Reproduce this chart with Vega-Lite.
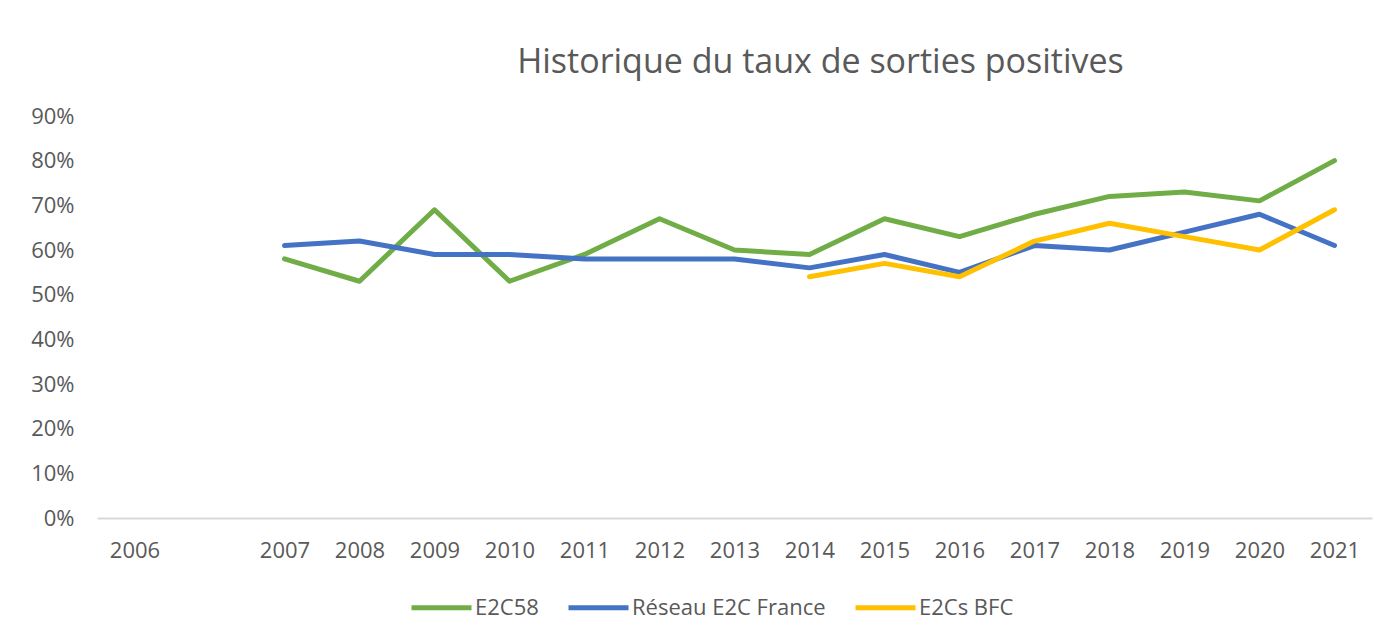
{
  "$schema": "https://vega.github.io/schema/vega-lite/v6.json",
  "autosize": {"type": "none"},
  "width": 1275,
  "height": 402,
  "padding": {"left": 97, "top": 116, "right": 22, "bottom": 123},
  "background": "white",
  "title": {
    "text": "Historique du taux de sorties positives",
    "anchor": "middle",
    "frame": "group",
    "dx": 86,
    "offset": 25,
    "font": "Open Sans",
    "fontSize": 34,
    "fontWeight": "normal",
    "color": "#595959"
  },
  "data": {
    "values": [
      {"serie": "E2C58", "annee": "2007", "taux": 0.58},
      {"serie": "E2C58", "annee": "2008", "taux": 0.53},
      {"serie": "E2C58", "annee": "2009", "taux": 0.69},
      {"serie": "E2C58", "annee": "2010", "taux": 0.53},
      {"serie": "E2C58", "annee": "2011", "taux": 0.59},
      {"serie": "E2C58", "annee": "2012", "taux": 0.67},
      {"serie": "E2C58", "annee": "2013", "taux": 0.60},
      {"serie": "E2C58", "annee": "2014", "taux": 0.59},
      {"serie": "E2C58", "annee": "2015", "taux": 0.67},
      {"serie": "E2C58", "annee": "2016", "taux": 0.63},
      {"serie": "E2C58", "annee": "2017", "taux": 0.68},
      {"serie": "E2C58", "annee": "2018", "taux": 0.72},
      {"serie": "E2C58", "annee": "2019", "taux": 0.73},
      {"serie": "E2C58", "annee": "2020", "taux": 0.71},
      {"serie": "E2C58", "annee": "2021", "taux": 0.80},
      {"serie": "Réseau E2C France", "annee": "2007", "taux": 0.61},
      {"serie": "Réseau E2C France", "annee": "2008", "taux": 0.62},
      {"serie": "Réseau E2C France", "annee": "2009", "taux": 0.59},
      {"serie": "Réseau E2C France", "annee": "2010", "taux": 0.59},
      {"serie": "Réseau E2C France", "annee": "2011", "taux": 0.58},
      {"serie": "Réseau E2C France", "annee": "2012", "taux": 0.58},
      {"serie": "Réseau E2C France", "annee": "2013", "taux": 0.58},
      {"serie": "Réseau E2C France", "annee": "2014", "taux": 0.56},
      {"serie": "Réseau E2C France", "annee": "2015", "taux": 0.59},
      {"serie": "Réseau E2C France", "annee": "2016", "taux": 0.55},
      {"serie": "Réseau E2C France", "annee": "2017", "taux": 0.61},
      {"serie": "Réseau E2C France", "annee": "2018", "taux": 0.60},
      {"serie": "Réseau E2C France", "annee": "2019", "taux": 0.64},
      {"serie": "Réseau E2C France", "annee": "2020", "taux": 0.68},
      {"serie": "Réseau E2C France", "annee": "2021", "taux": 0.61},
      {"serie": "E2Cs BFC", "annee": "2014", "taux": 0.54},
      {"serie": "E2Cs BFC", "annee": "2015", "taux": 0.57},
      {"serie": "E2Cs BFC", "annee": "2016", "taux": 0.54},
      {"serie": "E2Cs BFC", "annee": "2017", "taux": 0.62},
      {"serie": "E2Cs BFC", "annee": "2018", "taux": 0.66},
      {"serie": "E2Cs BFC", "annee": "2019", "taux": 0.63},
      {"serie": "E2Cs BFC", "annee": "2020", "taux": 0.60},
      {"serie": "E2Cs BFC", "annee": "2021", "taux": 0.69}
    ]
  },
  "mark": {"type": "line", "strokeWidth": 5, "strokeCap": "round", "strokeJoin": "round"},
  "encoding": {
    "x": {
      "field": "annee",
      "type": "ordinal",
      "scale": {
        "type": "point",
        "padding": 0.5,
        "domain": ["2006", " ", "2007", "2008", "2009", "2010", "2011", "2012", "2013", "2014", "2015", "2016", "2017", "2018", "2019", "2020", "2021"]
      },
      "axis": {
        "title": null,
        "labelAngle": 0,
        "ticks": false,
        "grid": false,
        "domain": true,
        "domainColor": "#d9d9d9",
        "domainWidth": 2,
        "labelFont": "Open Sans",
        "labelFontSize": 22,
        "labelColor": "#595959",
        "labelPadding": 22
      }
    },
    "y": {
      "field": "taux",
      "type": "quantitative",
      "scale": {"domain": [0, 0.9], "nice": false},
      "axis": {
        "title": null,
        "format": ".0%",
        "values": [0, 0.1, 0.2, 0.3, 0.4, 0.5, 0.6, 0.7, 0.8, 0.9],
        "ticks": false,
        "domain": false,
        "grid": false,
        "labelFont": "Open Sans",
        "labelFontSize": 22,
        "labelColor": "#595959",
        "labelPadding": 23
      }
    },
    "color": {
      "field": "serie",
      "type": "nominal",
      "scale": {
        "domain": ["E2C58", "Réseau E2C France", "E2Cs BFC"],
        "range": ["#70AD47", "#4472C4", "#FFC000"]
      },
      "legend": {
        "title": null,
        "orient": "none",
        "direction": "horizontal",
        "legendX": 312,
        "legendY": 459,
        "symbolType": "stroke",
        "symbolSize": 3600,
        "symbolStrokeWidth": 5,
        "labelFont": "Open Sans",
        "labelFontSize": 22,
        "labelColor": "#595959",
        "labelOffset": 1,
        "labelLimit": 400,
        "columnPadding": 19
      }
    }
  },
  "config": {
    "view": {"stroke": null}
  }
}
